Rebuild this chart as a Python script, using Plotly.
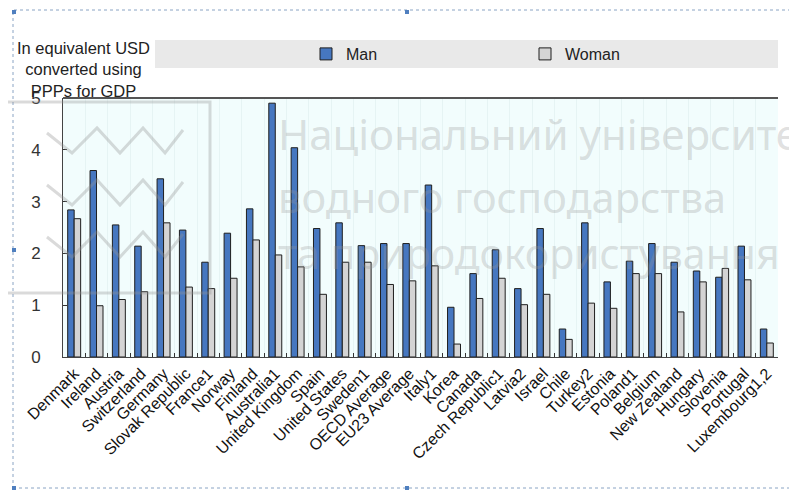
import plotly.graph_objects as go

categories = ["Denmark", "Ireland", "Austria", "Switzerland", "Germany", "Slovak Republic",
              "France1", "Norway", "Finland", "Australia1", "United Kingdom", "Spain",
              "United States", "Sweden1", "OECD Average", "EU23 Average", "Italy1", "Korea",
              "Canada", "Czech Republic1", "Latvia2", "Israel", "Chile", "Turkey2", "Estonia",
              "Poland1", "Belgium", "New Zealand", "Hungary", "Slovenia", "Portugal",
              "Luxembourg1,2"]
man = [2.84, 3.60, 2.55, 2.14, 3.44, 2.45, 1.83, 2.39, 2.86, 4.90, 4.04, 2.48,
       2.59, 2.15, 2.19, 2.19, 3.32, 0.96, 1.61, 2.07, 1.32, 2.48, 0.54, 2.59, 1.45,
       1.85, 2.19, 1.83, 1.66, 1.54, 2.14, 0.54]
woman = [2.67, 0.99, 1.11, 1.26, 2.59, 1.35, 1.32, 1.52, 2.26, 1.97, 1.74, 1.21,
         1.83, 1.83, 1.40, 1.47, 1.76, 0.25, 1.13, 1.52, 1.01, 1.21, 0.34, 1.04, 0.94,
         1.61, 1.61, 0.87, 1.45, 1.71, 1.49, 0.27]
y_ticks = [0, 1, 2, 3, 4, 5]
y_title = "In equivalent USD<br>converted using<br>PPPs for GDP"
watermark_lines = ["Національний університет", "водного господарства", "та природокористування"]

# The page body has an 8px margin; work in page pixels and convert.
OFF = 8
W, H = 797 - OFF, 492 - OFF
PLOT_L, PLOT_R, PLOT_T, PLOT_B = 63, 778, 98, 357   # page pixel positions of the plot area
L, T = PLOT_L - OFF, PLOT_T - OFF
R, B = W - (PLOT_R - OFF), H - (PLOT_B - OFF)
PW, PH = PLOT_R - PLOT_L, PLOT_B - PLOT_T

def px(x):
    return (x - PLOT_L) / PW

def py(y):
    return (PLOT_B - y) / PH

FONT = "Liberation Sans, Arial, sans-serif"

fig = go.Figure()
fig.add_trace(go.Bar(x=categories, y=man, name="Man",
                     marker=dict(color="#4677c0", line=dict(color="#1f1f1f", width=1))))
fig.add_trace(go.Bar(x=categories, y=woman, name="Woman",
                     marker=dict(color="#d4d4d4", line=dict(color="#1f1f1f", width=1))))

shapes = []
# legend band
shapes.append(dict(type="rect", xref="paper", yref="paper", x0=px(155), x1=px(778),
                   y0=py(68), y1=py(40), fillcolor="#e9e9e9", line=dict(width=0), layer="below"))
# top frame line of the plot
shapes.append(dict(type="line", xref="paper", yref="paper", x0=0, x1=1, y0=1, y1=1,
                   line=dict(color="#555555", width=2)))
# dashed document frame
shapes.append(dict(type="rect", xref="paper", yref="paper", x0=px(13), x1=px(805),
                   y0=py(488), y1=py(10), line=dict(color="#8aa4c4", width=1, dash="dot")))
for hx, hy in [(14, 12), (14, 250), (14, 488), (407, 12), (407, 488)]:
    shapes.append(dict(type="rect", xref="paper", yref="paper", x0=px(hx - 2), x1=px(hx + 2),
                       y0=py(hy + 2), y1=py(hy - 2), fillcolor="#4f7fbf", line=dict(width=0)))
# watermark logo
wm = "rgba(150,150,150,0.35)"
shapes.append(dict(type="rect", xref="paper", yref="paper", x0=px(4), x1=px(210),
                   y0=py(293), y1=py(102), line=dict(color=wm, width=3)))
zx = [47, 72, 97, 120, 143, 165, 183]
for k in range(3):
    off = 52 * k
    zy = [133 + off, 153 + off, 128 + off, 153 + off, 128 + off, 153 + off, 130 + off]
    path = "M " + " L ".join(f"{px(a):.4f},{py(b):.4f}" for a, b in zip(zx, zy))
    shapes.append(dict(type="path", xref="paper", yref="paper", path=path,
                       line=dict(color=wm, width=3)))

annotations = [dict(text=y_title, xref="paper", yref="paper", x=px(83), y=py(69),
                    xanchor="center", yanchor="middle", showarrow=False, align="center",
                    font=dict(family=FONT, size=16.5, color="#222222"))]
wm_sizes = [42, 41.5, 41]
wm_bottoms = [164, 227, 283]
for t, s, yb in zip(watermark_lines, wm_sizes, wm_bottoms):
    annotations.append(dict(text=t, xref="paper", yref="paper", x=px(276), y=py(yb),
                            xanchor="left", yanchor="bottom", showarrow=False,
                            font=dict(family="Noto Sans, Open Sans, sans-serif", size=s,
                                      color="rgba(150,150,150,0.3)")))

fig.update_layout(
    width=W, height=H,
    margin=dict(l=L, r=R, t=T, b=B, autoexpand=False),
    paper_bgcolor="white",
    plot_bgcolor="#f2fdfd",
    barmode="group", bargap=0.42, bargroupgap=0,
    font=dict(family=FONT, size=15, color="#222222"),
    showlegend=True,
    legend=dict(orientation="h", x=px(306), y=py(54), xanchor="left", yanchor="middle",
                bgcolor="rgba(0,0,0,0)", entrywidth=174, entrywidthmode="pixels",
                itemwidth=30, font=dict(family=FONT, size=16, color="#222222")),
    shapes=shapes,
    annotations=annotations,
    xaxis=dict(type="category", tickangle=-45, tickson="boundaries", ticks="inside",
               ticklen=4, tickcolor="#333333", showline=True, linecolor="#444444",
               linewidth=1, showgrid=True, gridcolor="#e6f4f4", tickmode="linear", dtick=1,
               tickfont=dict(family=FONT, size=16, color="#111111"),
               range=[-0.5, len(categories) - 0.5]),
    yaxis=dict(range=[0, 5], tickvals=y_ticks, ticks="inside", ticklen=4,
               tickcolor="#333333", showline=True, linecolor="#444444", linewidth=1,
               showgrid=False, zeroline=False, ticklabelstandoff=18,
               tickfont=dict(family=FONT, size=17, color="#333333")),
)

fig.write_html("out.html")
